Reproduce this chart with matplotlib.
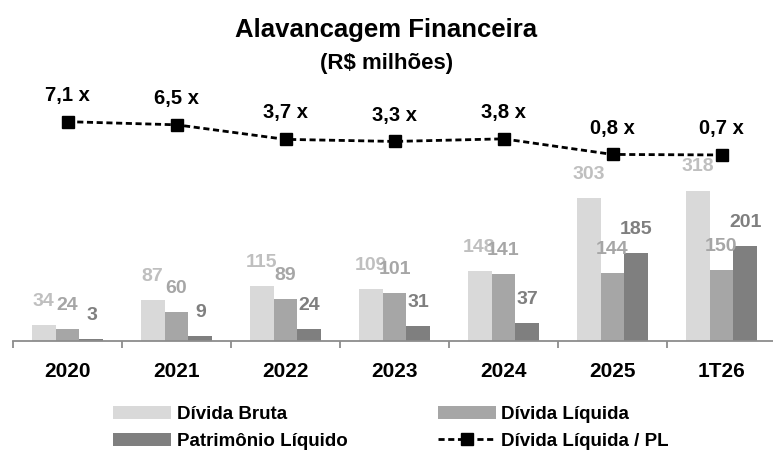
import matplotlib.pyplot as plt
import numpy as np

anos = ['2020', '2021', '2022', '2023', '2024', '2025', '1T26']
divida_bruta = [34, 87, 115, 109, 148, 303, 318]
divida_liquida = [24, 60, 89, 101, 141, 144, 150]
patrimonio = [3, 9, 24, 31, 37, 185, 201]
alavancagem = [7.1, 6.5, 3.7, 3.3, 3.8, 0.8, 0.7]

plt.rcParams['font.family'] = ['Liberation Sans', 'DejaVu Sans']

W, H = 773, 453
fig = plt.figure(figsize=(W/100, H/100), dpi=100)

# eixo em pixels: x de 13 a 776, base em y=341, topo em y=100
ax = fig.add_axes([13/W, (H-340.7)/H, 763/W, 240.7/H])
ax2 = ax.twinx()

x = np.arange(len(anos))
w = 0.22
series = [
    (divida_bruta, '#D9D9D9', '#BFBFBF', 'Dívida Bruta', -w),
    (divida_liquida, '#A6A6A6', '#A6A6A6', 'Dívida Líquida', 0),
    (patrimonio, '#7F7F7F', '#7F7F7F', 'Patrimônio Líquido', w),
]
barras = {}
for vals, cor, cor_txt, nome, off in series:
    barras[nome] = ax.bar(x + off, vals, width=w, color=cor, label=nome, zorder=2)
    for xi, v in zip(x, vals):
        ax.annotate(str(v), (xi + off, v), xytext=(0, 17), textcoords='offset points',
                    ha='center', va='center', fontsize=14, fontweight='bold',
                    color=cor_txt, zorder=3)

ax.set_xlim(-0.5, len(anos) - 0.5)
ax.set_ylim(0, 240.7/0.472)

linha, = ax2.plot(x, alavancagem, color='black', linestyle='--', dashes=(2.2, 1.3),
                  linewidth=2, marker='s', markersize=9, markerfacecolor='black',
                  markeredgecolor='black', label='Dívida Líquida / PL', zorder=5)
for xi, v in zip(x, alavancagem):
    ax2.annotate(f'{v:.1f} x'.replace('.', ','), (xi, v), xytext=(0, 19),
                 textcoords='offset points', ha='center', va='center',
                 fontsize=14.5, fontweight='bold', color='black')
ax2.set_ylim(-(340.7-158.6)/5.2, (158.6-100)/5.2)

for a in (ax, ax2):
    for s in ['top', 'right', 'left']:
        a.spines[s].set_visible(False)
    a.set_yticks([])
ax2.spines['bottom'].set_visible(False)
ax.spines['bottom'].set_color('#8C8C8C')
ax.spines['bottom'].set_linewidth(1.3)

ax.set_xticks(x)
ax.set_xticklabels(anos, fontsize=15, fontweight='bold')
ax.tick_params(axis='x', which='major', length=0, pad=15)
ax.set_xticks(np.arange(len(anos) + 1) - 0.5, minor=True)
ax.tick_params(axis='x', which='minor', length=5, width=1.3, color='#8C8C8C', direction='out')

fig.text(386/W, 1 - 30/H, 'Alavancagem Financeira', ha='center', va='center',
         fontsize=18.5, fontweight='bold')
fig.text(387/W, 1 - 63/H, '(R$ milhões)', ha='center', va='center',
         fontsize=16, fontweight='bold')

handles = [barras['Dívida Bruta'], barras['Patrimônio Líquido'],
           barras['Dívida Líquida'], linha]
leg = fig.legend(handles, [h.get_label() for h in handles], ncol=2,
                 loc='upper left', bbox_to_anchor=(113/W, 1 - 406/H),
                 frameon=False, borderpad=0, borderaxespad=0,
                 handlelength=3.1, handleheight=0.7, handletextpad=0.3,
                 columnspacing=4.8, labelspacing=0.5,
                 prop={'weight': 'bold', 'size': 13.5})

fig.savefig('out.png', dpi=100)
